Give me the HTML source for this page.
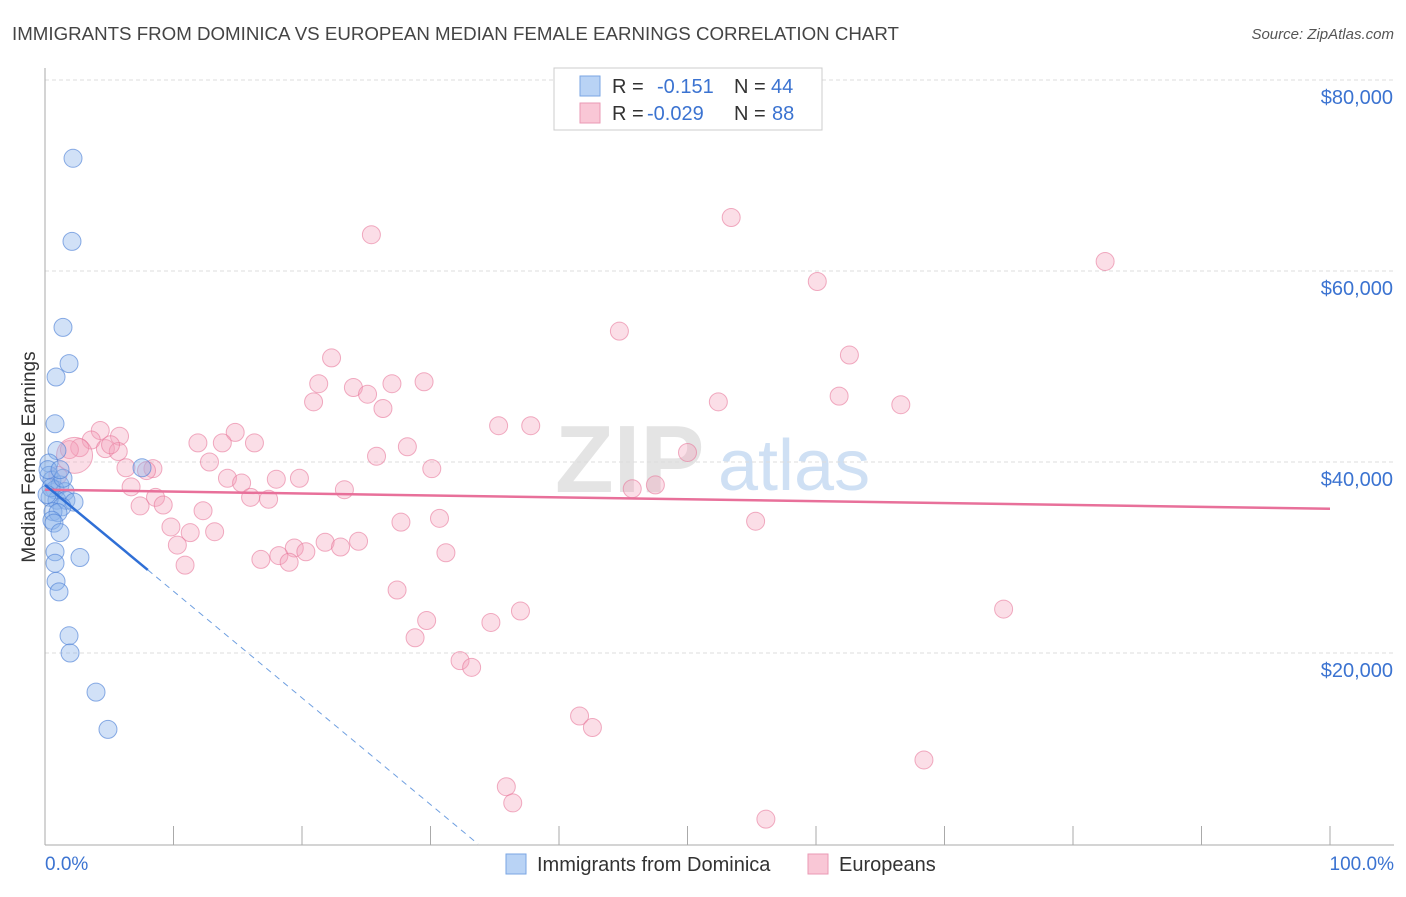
<!DOCTYPE html>
<html><head><meta charset="utf-8"><style>
body{margin:0;background:#fff;font-family:"Liberation Sans",sans-serif}
svg text{font-family:"Liberation Sans",sans-serif}
</style></head><body>
<svg width="1406" height="892" xmlns="http://www.w3.org/2000/svg">
<text x="12" y="40" font-size="18" fill="#444" textLength="887" lengthAdjust="spacingAndGlyphs">IMMIGRANTS FROM DOMINICA VS EUROPEAN MEDIAN FEMALE EARNINGS CORRELATION CHART</text>
<text x="1394" y="39" font-size="15" fill="#555" font-style="italic" text-anchor="end">Source: ZipAtlas.com</text>
<text x="555" y="492" font-size="96" fill="#e4e4e4" font-family="Liberation Serif" font-weight="bold">ZIP</text>
<text x="718" y="490" font-size="72" fill="#cfe0f4">atlas</text>
<g id="grid"></g>
<line x1="45" y1="68" x2="45" y2="845" stroke="#aaa"/>
<line x1="45" y1="845" x2="1394" y2="845" stroke="#aaa"/>
<g id="xticks"></g>
<text x="35" y="457" font-size="19" fill="#333" text-anchor="middle" transform="rotate(-90 35 457)">Median Female Earnings</text>
<text x="45" y="870" font-size="19" fill="#3b73d1">0.0%</text>
<text x="1394" y="870" font-size="19" fill="#3b73d1" text-anchor="end">100.0%</text>
<g id="pink"></g><g id="blue"></g><g id="lines"></g>
<g>
<rect x="554" y="68" width="268" height="62" fill="#fff" stroke="#ccc"/>
<rect x="580" y="76" width="20" height="20" fill="#b9d3f5" stroke="#7aa6e3"/>
<rect x="580" y="103" width="20" height="20" fill="#f9c7d6" stroke="#ea9ab4"/>
<text x="612" y="93" font-size="20" fill="#333">R =</text><text x="657" y="93" font-size="20" fill="#3b73d1">-0.151</text>
<text x="734" y="93" font-size="20" fill="#333">N =</text><text x="771" y="93" font-size="20" fill="#3b73d1">44</text>
<text x="612" y="120" font-size="20" fill="#333">R =</text><text x="647" y="120" font-size="20" fill="#3b73d1">-0.029</text>
<text x="734" y="120" font-size="20" fill="#333">N =</text><text x="772" y="120" font-size="20" fill="#3b73d1">88</text>
</g>
<g>
<rect x="506" y="854" width="20" height="20" fill="#b9d3f5" stroke="#7aa6e3"/>
<text x="537" y="871" font-size="20" fill="#333">Immigrants from Dominica</text>
<rect x="808" y="854" width="20" height="20" fill="#f9c7d6" stroke="#ea9ab4"/>
<text x="839" y="871" font-size="20" fill="#333">Europeans</text>
</g>
</svg>
<script>
const yTicks=[20000,40000,60000,80000];
const yTickLabels=["$20,000","$40,000","$60,000","$80,000"];
const xTicks=[0,10,20,30,40,50,60,70,80,90,100];
const blueX=[2.18,2.1,1.4,1.87,0.86,0.78,0.93,0.31,0.31,0.54,1.17,0.78,1.56,0.39,0.93,1.63,2.26,1.32,0.62,1.01,0.54,0.7,1.17,0.78,2.72,0.78,0.86,1.09,1.87,1.95,3.97,4.9,7.55,0.23,0.47,0.16,1.4,1.17];
const blueY=[71800,63100,54100,50300,48900,44000,41200,39900,38600,38100,37600,37100,36900,36300,36000,36000,35800,35300,34800,34700,33900,33600,32600,30600,30000,29400,27500,26400,21800,20000,15900,12000,39400,39200,37300,36600,38300,39200];
const pinkX=[53.4,25.4,82.5,60.1,44.7,22.3,62.6,29.5,21.3,27.0,24.0,25.1,20.9,52.4,61.8,26.3,66.6,35.3,37.8,4.3,14.8,5.8,3.6,11.9,16.3,13.8,28.2,2.7,4.7,5.7,50.0,25.8,12.8,30.1,6.3,8.4,7.9,14.2,18.0,19.8,15.3,6.7,23.3,45.7,47.5,16.0,8.6,17.4,9.2,7.4,12.3,27.7,30.7,55.3,9.8,13.2,11.3,21.8,24.4,10.3,23.0,19.4,31.2,16.8,18.2,20.3,19.0,10.9,27.4,74.6,37.0,29.7,34.7,28.8,32.3,33.2,41.6,42.6,68.4,35.9,36.4,56.1,1.9,1.0,5.1,2.3];
const pinkY=[65600,63800,61000,58900,53700,50900,51200,48400,48200,48200,47800,47100,46300,46300,46900,45600,46000,43800,43800,43300,43100,42700,42300,42000,42000,42000,41600,41500,41400,41100,41000,40600,40000,39300,39400,39300,39100,38300,38200,38300,37800,37400,37100,37200,37600,36300,36300,36100,35500,35400,34900,33700,34100,33800,33200,32700,32600,31600,31700,31300,31100,31000,30500,29800,30200,30600,29500,29200,26600,24600,24400,23400,23200,21600,19200,18500,13400,12200,8800,6000,4300,2600,41300,38600,41800,40700];
const blueTrend=[0,37600,8,28700,33.7,0];
const pinkTrend=[0,37100,100,35100];
const X=p=>45+p*12.85, Y=v=>844-v*191/20000;
const NS="http://www.w3.org/2000/svg";
function mk(t,a,p){const e=document.createElementNS(NS,t);for(const k in a)e.setAttribute(k,a[k]);p.appendChild(e);return e;}
const grid=document.getElementById('grid');
yTicks.forEach((v,i)=>{
 const l=mk('line',{x1:45,x2:1394,y1:Y(v),y2:Y(v),stroke:'#ddd','stroke-dasharray':'4,3'},grid);
 
 
 const t=mk('text',{x:1393,y:Y(v)+24,'font-size':20,fill:'#3b73d1','text-anchor':'end'},grid);
 t.textContent=yTickLabels[i];
 
 
});
const xt=document.getElementById('xticks');
xTicks.forEach(p=>{
 const l=mk('line',{x1:X(p),x2:X(p),y1:826,y2:845,stroke:'#aaa'},xt);
 
 
});
const pg=document.getElementById('pink');
pinkX.forEach((x,i)=>{
 const c=mk('circle',{cx:X(x),cy:Y(pinkY[i]),r:i==pinkX.length-1?18:9,fill:'rgba(244,160,186,0.35)',stroke:'rgba(232,120,155,0.6)','stroke-width':1},pg);
 
 
});
const bg=document.getElementById('blue');
blueX.forEach((x,i)=>{
 const c=mk('circle',{cx:X(x),cy:Y(blueY[i]),r:9,fill:'rgba(140,180,235,0.4)',stroke:'rgba(80,130,215,0.65)','stroke-width':1},bg);
 
 
});
const lg=document.getElementById('lines');
const pl=mk('line',{x1:X(pinkTrend[0]),y1:Y(pinkTrend[1]),x2:X(pinkTrend[2]),y2:Y(pinkTrend[3]),stroke:'#e8709a','stroke-width':2.5},lg);


const bl=mk('line',{x1:X(blueTrend[0]),y1:Y(blueTrend[1]),x2:X(blueTrend[2]),y2:Y(blueTrend[3]),stroke:'#2f6fd6','stroke-width':2.5},lg);


const bd=mk('line',{x1:X(blueTrend[2]),y1:Y(blueTrend[3]),x2:X(blueTrend[4]),y2:Y(blueTrend[5]),stroke:'#6f9fe0','stroke-width':1,'stroke-dasharray':'6,5'},lg);


</script>
</body></html>
